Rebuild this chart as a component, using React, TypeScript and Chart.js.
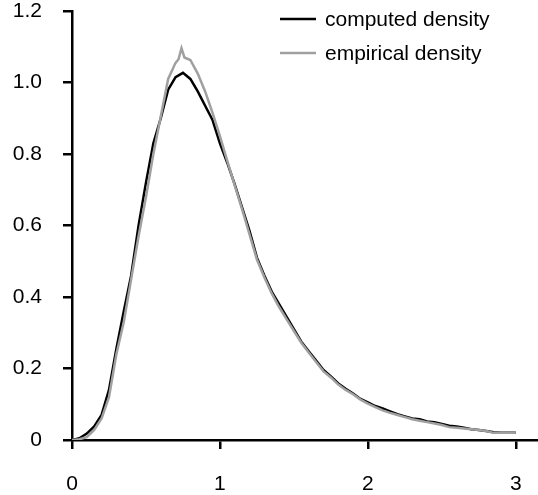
import React, { useEffect, useRef } from "react";
import { Chart, registerables } from "chart.js";

Chart.register(...registerables);

const xTickValues = [0, 1, 2, 3];
const yTickValues = [0, 0.2, 0.4, 0.6, 0.8, 1.0, 1.2];

const seriesNames = ["computed density", "empirical density"];
const seriesColors = ["#000000", "#a0a0a0"];

const xComputed = [
  0.0, 0.05, 0.1, 0.15, 0.2, 0.25, 0.3, 0.35, 0.4, 0.45, 0.5, 0.55, 0.6, 0.65, 0.7, 0.75, 0.8, 0.85, 0.9, 0.95,
  1.0, 1.05, 1.1, 1.15, 1.2, 1.25, 1.3, 1.35, 1.4, 1.45, 1.5, 1.55, 1.6, 1.65, 1.7, 1.75, 1.8, 1.85, 1.9, 1.95,
  2.0, 2.05, 2.1, 2.15, 2.2, 2.25, 2.3, 2.35, 2.4, 2.45, 2.5, 2.55, 2.6, 2.65, 2.7, 2.75, 2.8, 2.85, 2.9, 2.95, 3.0,
];
const yComputed = [
  0.0, 0.005, 0.018, 0.038, 0.07, 0.14, 0.255, 0.36, 0.46, 0.6, 0.72, 0.83, 0.9, 0.98, 1.015, 1.027, 1.01, 0.975, 0.935, 0.895,
  0.83, 0.775, 0.715, 0.65, 0.585, 0.51, 0.46, 0.415, 0.38, 0.345, 0.31, 0.275, 0.248, 0.222, 0.196, 0.178, 0.158, 0.143, 0.13, 0.115,
  0.105, 0.095, 0.088, 0.08, 0.072, 0.066, 0.06, 0.058, 0.052, 0.05, 0.045, 0.04, 0.038, 0.034, 0.03, 0.028, 0.025, 0.022, 0.02, 0.02, 0.02,
];

const xEmpirical = [
  0.0, 0.05, 0.1, 0.15, 0.2, 0.25, 0.3, 0.35, 0.4, 0.45, 0.5, 0.55, 0.6, 0.65, 0.7, 0.72, 0.74, 0.76, 0.8, 0.85, 0.9, 0.95,
  1.0, 1.05, 1.1, 1.15, 1.2, 1.25, 1.3, 1.35, 1.4, 1.45, 1.5, 1.55, 1.6, 1.65, 1.7, 1.75, 1.8, 1.85, 1.9, 1.95,
  2.0, 2.05, 2.1, 2.15, 2.2, 2.25, 2.3, 2.35, 2.4, 2.45, 2.5, 2.55, 2.6, 2.65, 2.7, 2.75, 2.8, 2.85, 2.9, 2.95, 3.0,
];
const yEmpirical = [
  0.0, 0.002, 0.008, 0.028, 0.06, 0.12, 0.24, 0.33, 0.45, 0.57, 0.68, 0.8, 0.905, 1.01, 1.055, 1.065, 1.096, 1.07, 1.063, 1.025, 0.975, 0.915,
  0.85, 0.78, 0.712, 0.645, 0.575, 0.505, 0.455, 0.41, 0.372, 0.338, 0.305, 0.272, 0.245, 0.218, 0.192, 0.175, 0.155, 0.14, 0.128, 0.113,
  0.102, 0.092, 0.083, 0.076, 0.07, 0.064, 0.058, 0.054, 0.05, 0.046, 0.042, 0.036, 0.034, 0.032, 0.03, 0.028, 0.025, 0.02, 0.02, 0.02, 0.02,
];

const FONT = "'Liberation Sans', Arial, Helvetica, sans-serif";

const legendPlugin = {
  id: "customLegend",
  afterDraw(chart: any) {
    const ctx = chart.ctx;
    ctx.save();
    const rows = [19, 53];
    seriesNames.forEach((name, i) => {
      const y = rows[i];
      ctx.strokeStyle = seriesColors[i];
      ctx.lineWidth = 2.5;
      ctx.beginPath();
      ctx.moveTo(280, y);
      ctx.lineTo(316, y);
      ctx.stroke();
      ctx.fillStyle = "#000";
      ctx.font = `21px ${FONT}`;
      ctx.textAlign = "left";
      ctx.textBaseline = "middle";
      ctx.fillText(name, 325, y + 1);
    });
    ctx.restore();
  },
};

export default function App() {
  const ref = useRef<HTMLCanvasElement | null>(null);
  useEffect(() => {
    if (!ref.current) return;
    const chart = new Chart(ref.current, {
      type: "line",
      data: {
        datasets: [
          {
            label: seriesNames[1],
            data: xEmpirical.map((x, i) => ({ x, y: yEmpirical[i] })),
            borderColor: seriesColors[1],
            borderWidth: 2.5,
            pointRadius: 0,
            tension: 0,
            order: 1,
          },
          {
            label: seriesNames[0],
            data: xComputed.map((x, i) => ({ x, y: yComputed[i] })),
            borderColor: seriesColors[0],
            borderWidth: 2.5,
            pointRadius: 0,
            tension: 0,
            order: 2,
          },
        ],
      },
      options: {
        responsive: false,
        animation: false,
        layout: { padding: { top: 11, right: 0, left: 0, bottom: 0 } },
        plugins: { legend: { display: false }, tooltip: { enabled: false } },
        scales: {
          x: {
            type: "linear",
            min: 0,
            max: 3.15,
            afterBuildTicks: (s: any) => {
              s.ticks = xTickValues.map((v) => ({ value: v }));
            },
            afterFit: (s: any) => {
              s.height = 55;
              s.paddingLeft = 0;
              s.paddingRight = 0;
            },
            ticks: {
              autoSkip: false,
              maxRotation: 0,
              padding: 23,
              color: "#000",
              font: { family: FONT, size: 21 },
              callback: (v: any) => String(v),
            },
            grid: { drawOnChartArea: false, drawTicks: true, tickLength: 9, color: "#000", lineWidth: 2.5 },
            border: { display: true, color: "#000", width: 2.5 },
          },
          y: {
            type: "linear",
            min: 0,
            max: 1.2,
            afterBuildTicks: (s: any) => {
              s.ticks = yTickValues.map((v) => ({ value: v }));
            },
            afterFit: (s: any) => {
              s.width = 72;
              s.paddingTop = 0;
              s.paddingBottom = 0;
            },
            ticks: {
              autoSkip: false,
              padding: 21,
              color: "#000",
              font: { family: FONT, size: 21 },
              callback: (v: any) => (v === 0 ? "0" : Number(v).toFixed(1)),
            },
            grid: { drawOnChartArea: false, drawTicks: true, tickLength: 9, color: "#000", lineWidth: 2.5 },
            border: { display: true, color: "#000", width: 2.5 },
          },
        },
      },
      plugins: [legendPlugin],
    });
    return () => chart.destroy();
  }, []);
  return (
    <div style={{ position: "fixed", left: 0, top: 0, width: 538, height: 495, background: "#fff" }}>
      <canvas ref={ref} width={538} height={495} style={{ display: "block" }} />
    </div>
  );
}
